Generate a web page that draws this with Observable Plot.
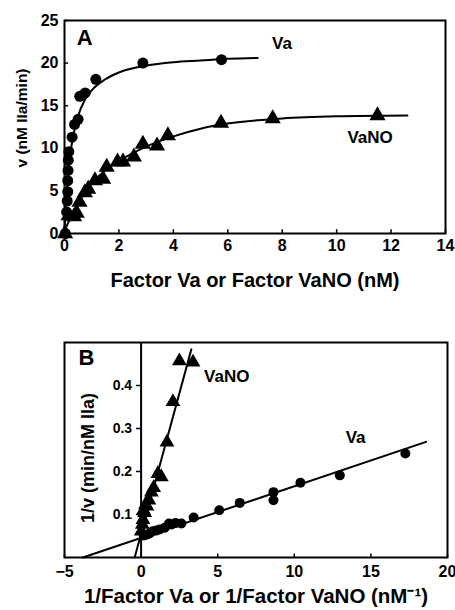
<!DOCTYPE html>
<html>
<head>
<meta charset="utf-8">
<script src="https://cdn.jsdelivr.net/npm/d3@7"></script>
<script src="https://cdn.jsdelivr.net/npm/@observablehq/plot@0.6"></script>
<style>
  html, body { margin: 0; padding: 0; background: #fff; }
  #chart svg { display: block; }
</style>
</head>
<body>
<div id="chart"></div>
<script>
// ---------- Panel A: v vs [Factor Va] ----------
const aVaConc = [0.03, 0.08, 0.1, 0.12, 0.12, 0.13, 0.14, 0.16, 0.28, 0.37, 0.5, 0.56, 0.76, 1.15, 2.88, 5.77];
const aVaRate = [0, 2.5, 3.8, 4.9, 6.2, 7.4, 8.6, 9.6, 11.3, 12.8, 13.4, 16.1, 16.5, 18.1, 20.0, 20.4];
const aVaFitConc = [0, 0.05, 0.1, 0.2, 0.3, 0.5, 0.75, 1, 1.5, 2, 3, 4, 5, 6, 7.1];
const aVaFitRate = [0.3, 3.2, 5.7, 9.0, 11.1, 13.8, 15.7, 16.8, 18.1, 18.9, 19.7, 20.1, 20.3, 20.5, 20.6];

const aNoConc = [0.02, 0.15, 0.35, 0.45, 0.55, 0.75, 0.87, 1.12, 1.42, 1.55, 1.95, 2.15, 2.55, 2.88, 3.4, 3.8, 5.75, 7.65, 11.5];
const aNoRate = [0, 2.1, 2.0, 2.4, 3.7, 4.8, 5.2, 6.2, 6.4, 7.8, 8.4, 8.4, 9.0, 10.5, 10.3, 11.5, 12.95, 13.5, 13.85];
const aNoFitConc = [0, 0.5, 1, 1.5, 2, 3, 4, 5, 6, 8, 10, 12.6];
const aNoFitRate = [0.3, 3.6, 5.9, 7.4, 8.5, 10.2, 11.4, 12.3, 12.9, 13.5, 13.75, 13.85];

const aXTicks = [0, 2, 4, 6, 8, 10, 12, 14];
const aYTicks = [0, 5, 10, 15, 20, 25];

// ---------- Panel B: double reciprocal ----------
const bVaInv = [0.17, 0.35, 0.55, 0.77, 1.0, 1.21, 1.54, 1.82, 2.0, 2.25, 2.63, 3.43, 5.1, 6.44, 8.64, 8.64, 10.4, 12.97, 17.25];
const bVaRecip = [0.051, 0.053, 0.056, 0.061, 0.063, 0.065, 0.069, 0.079, 0.077, 0.080, 0.079, 0.093, 0.110, 0.127, 0.152, 0.133, 0.174, 0.191, 0.242];
const bVaLineInv = [-3.8, 18.6];
const bVaLineRecip = [0.0, 0.269];

const bNoInv = [0.01, 0.08, 0.12, 0.16, 0.23, 0.29, 0.38, 0.51, 0.67, 0.82, 1.1, 1.32, 1.69, 2.08, 2.5, 3.39];
const bNoRecip = [0.061, 0.077, 0.088, 0.11, 0.104, 0.123, 0.119, 0.133, 0.152, 0.162, 0.195, 0.187, 0.268, 0.362, 0.457, 0.454];
const bNoLineInv = [-0.42, 3.28];
const bNoLineRecip = [0.0, 0.484];

const bXTicks = [-5, 0, 5, 10, 15, 20];
const bYTicks = [0.1, 0.2, 0.3, 0.4];

const zip = (xs, ys) => xs.map((x, i) => ({x, y: ys[i]}));

const FONT = "'Liberation Sans', Arial, Helvetica, sans-serif";
const baseStyle = {fontFamily: FONT, fontWeight: "bold", fontSize: "15px", color: "#000", background: "#fff", overflow: "visible"};

const chartA = Plot.plot({
  width: 455, height: 300,
  marginTop: 20, marginBottom: 67, marginLeft: 64, marginRight: 10,
  style: baseStyle,
  x: {domain: [0, 14]},
  y: {domain: [0, 25]},
  marks: [
    Plot.frame({stroke: "#000", strokeWidth: 2}),
    Plot.axisX(aXTicks, {tickSize: 0, tickPadding: 6, label: null, fontSize: 16, fontWeight: "bold"}),
    Plot.axisY(aYTicks, {tickSize: 0, tickPadding: 6, label: null, fontSize: 16, fontWeight: "bold"}),
    Plot.ruleX(aXTicks, {y1: 0, y2: 0.45, strokeWidth: 1.5}),
    Plot.ruleY(aYTicks, {x1: 0, x2: 0.15, strokeWidth: 1.5}),
    Plot.line(zip(aVaFitConc, aVaFitRate), {x: "x", y: "y", stroke: "#000", strokeWidth: 2, curve: "monotone-x"}),
    Plot.line(zip(aNoFitConc, aNoFitRate), {x: "x", y: "y", stroke: "#000", strokeWidth: 2, curve: "monotone-x"}),
    Plot.dot(zip(aVaConc, aVaRate), {x: "x", y: "y", r: 5.5, fill: "#000", symbol: "circle"}),
    Plot.dot(zip(aNoConc, aNoRate), {x: "x", y: "y", r: 6, fill: "#000", symbol: "triangle"}),
    Plot.text(["A"], {x: 0.74, y: 23.0, fontSize: 22, fontWeight: "bold"}),
    Plot.text(["Va"], {x: 7.99, y: 22.3, fontSize: 17, fontWeight: "bold"}),
    Plot.text(["VaNO"], {x: 11.23, y: 11.3, fontSize: 17, fontWeight: "bold"}),
    Plot.text(["v (nM IIa/min)"], {frameAnchor: "left", textAnchor: "middle", dx: -42, dy: -9, rotate: -90, fontSize: 15.5, fontWeight: "bold"}),
    Plot.text(["Factor Va or Factor VaNO (nM)"], {frameAnchor: "bottom", dy: 53, fontSize: 20, fontWeight: "bold"})
  ]
});

const chartB = Plot.plot({
  width: 455, height: 310,
  marginTop: 42, marginBottom: 53, marginLeft: 64, marginRight: 8,
  style: baseStyle,
  x: {domain: [-5, 20]},
  y: {domain: [0, 0.5], axis: null},
  marks: [
    Plot.frame({stroke: "#000", strokeWidth: 2}),
    Plot.axisX(bXTicks, {tickSize: 0, tickPadding: 8, label: null, fontSize: 16, fontWeight: "bold"}),
    Plot.ruleX(bXTicks, {y1: 0, y2: 0.008, strokeWidth: 1.5}),
    Plot.ruleX([0], {y1: 0, y2: 0.5, stroke: "#000", strokeWidth: 2}),
    Plot.ruleY(bYTicks, {x1: -0.3, x2: 0, strokeWidth: 1.5}),
    Plot.text(bYTicks, {x: 0, y: d => d, text: d => d.toFixed(1), dx: -9, textAnchor: "end", fontSize: 14, fontWeight: "bold"}),
    Plot.line(zip(bVaLineInv, bVaLineRecip), {x: "x", y: "y", stroke: "#000", strokeWidth: 2}),
    Plot.line(zip(bNoLineInv, bNoLineRecip), {x: "x", y: "y", stroke: "#000", strokeWidth: 2}),
    Plot.dot(zip(bVaInv, bVaRecip), {x: "x", y: "y", r: 5, fill: "#000", symbol: "circle"}),
    Plot.dot(zip(bNoInv, bNoRecip), {x: "x", y: "y", r: 5.5, fill: "#000", symbol: "triangle"}),
    Plot.text(["B"], {x: -3.56, y: 0.463, fontSize: 22, fontWeight: "bold"}),
    Plot.text(["VaNO"], {x: 5.59, y: 0.42, fontSize: 17, fontWeight: "bold"}),
    Plot.text(["Va"], {x: 14.0, y: 0.279, fontSize: 17, fontWeight: "bold"}),
    Plot.text(["1/v (min/nM IIa)"], {frameAnchor: "left", textAnchor: "middle", dx: 24, dy: 8, rotate: -90, fontSize: 18, fontWeight: "bold"}),
    Plot.text(["1/Factor Va or 1/Factor VaNO (nM\u207B\u00B9)"], {frameAnchor: "bottom", dy: 45, fontSize: 20.5, fontWeight: "bold"})
  ]
});

const root = document.getElementById("chart");
root.appendChild(chartA);
root.appendChild(chartB);
</script>
</body>
</html>
